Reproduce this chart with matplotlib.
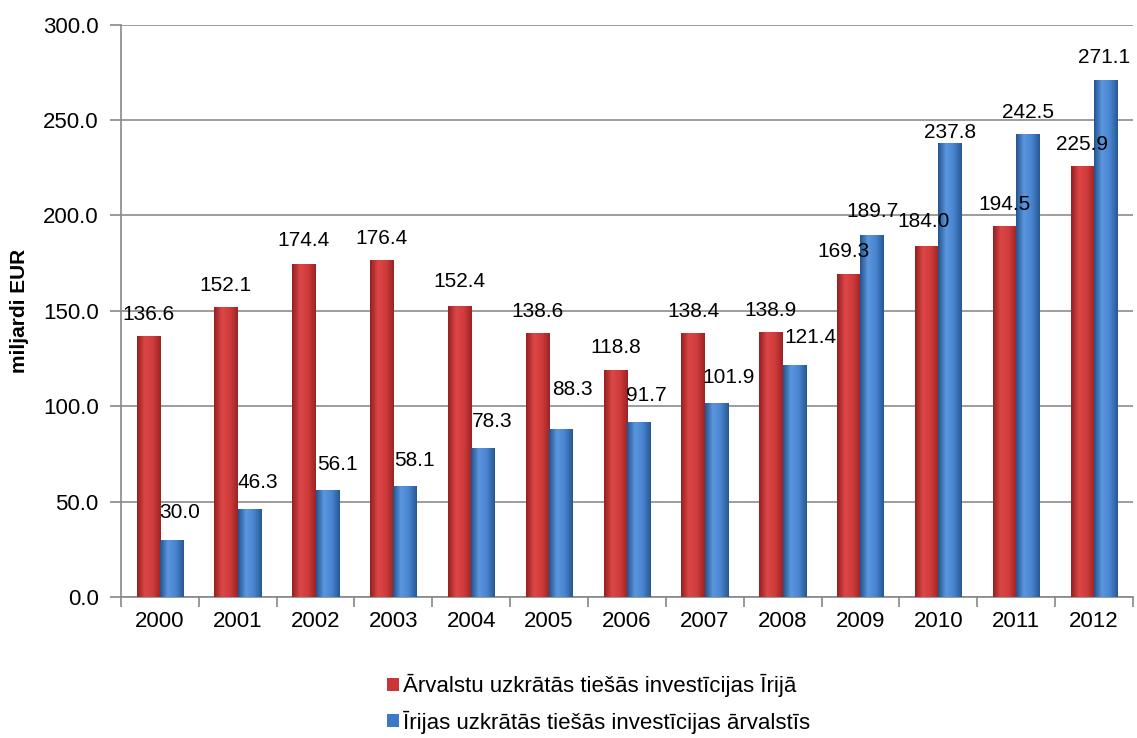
import numpy as np
import matplotlib.pyplot as plt
from matplotlib.colors import LinearSegmentedColormap

plt.rcParams['font.family'] = ['Liberation Sans', 'DejaVu Sans']

years = ['2000', '2001', '2002', '2003', '2004', '2005', '2006',
         '2007', '2008', '2009', '2010', '2011', '2012']
inward = [136.6, 152.1, 174.4, 176.4, 152.4, 138.6, 118.8,
          138.4, 138.9, 169.3, 184.0, 194.5, 225.9]
outward = [30.0, 46.3, 56.1, 58.1, 78.3, 88.3, 91.7,
           101.9, 121.4, 189.7, 237.8, 242.5, 271.1]
label_in = 'Ārvalstu uzkrātās tiešās investīcijas Īrijā'
label_out = 'Īrijas uzkrātās tiešās investīcijas ārvalstīs'

# label nudges (pixels) as placed in the original chart
red_dx = [0, -1, 0, 0, 0, 0, 0, 0, 0, -5, -3, 0, 0]
red_gap = [16, 16, 18, 16, 19, 16, 17, 16, 16, 17, 19, 16, 16]
blue_dx = [8.5, 8, 10, 9, 9.5, 12, 8, 12, 16, 0, 0, 0, -2]
blue_gap = [22, 21, 20, 20, 21, 34, 21, 20, 22, 18, 5, 16, 17]

fig = plt.figure(figsize=(11.37, 7.38), dpi=100)
ax = fig.add_axes([0.1064, 0.1911, 0.89, 0.7754])

x = np.arange(len(years))
w = 0.3
red_bars = ax.bar(x - w / 2, inward, w, color='#cc3535', label=label_in, zorder=3)
blue_bars = ax.bar(x + w / 2, outward, w, color='#3b78c6', label=label_out, zorder=3)

# shaded cylinder look
red_cm = LinearSegmentedColormap.from_list('r', ['#952020', '#dc4646', '#d03b3b', '#9c2424'])
blue_cm = LinearSegmentedColormap.from_list('b', ['#23548f', '#5b96de', '#4884d0', '#285892'])
grad = np.linspace(0, 1, 64).reshape(1, -1)
for bars, cm in [(red_bars, red_cm), (blue_bars, blue_cm)]:
    for b in bars:
        x0, y0 = b.get_x(), b.get_y()
        im = ax.imshow(grad, cmap=cm, aspect='auto', zorder=4,
                       extent=[x0, x0 + b.get_width(), y0, y0 + b.get_height()])
        im.set_clip_path(b)

px = 0.72  # points per pixel at dpi 100
for i in range(len(years)):
    ax.annotate(f'{inward[i]:.1f}', (x[i] - w / 2, inward[i]),
                xytext=(red_dx[i] * px, red_gap[i] * px),
                textcoords='offset points', ha='center', va='baseline', fontsize=15, zorder=5)
    ax.annotate(f'{outward[i]:.1f}', (x[i] + w / 2, outward[i]),
                xytext=(blue_dx[i] * px, blue_gap[i] * px),
                textcoords='offset points', ha='center', va='baseline', fontsize=15, zorder=5)

ax.set_xlim(-0.5, len(years) - 0.5)
ax.set_ylim(0, 300)
ax.set_yticks(np.arange(0, 301, 50))
ax.set_yticklabels([f'{v:.1f}' for v in np.arange(0, 301, 50)], fontsize=16)
ax.set_xticks(x)
ax.set_xticklabels(years, fontsize=16)
ax.set_xticks(np.arange(-0.5, len(years), 1), minor=True)
ax.tick_params(axis='x', which='major', length=0, pad=10)
ax.tick_params(axis='x', which='minor', length=7, color='#888888', width=1.2)
ax.tick_params(axis='y', length=8, color='#888888', width=1.2, pad=8)
ax.yaxis.grid(True, color='#8c8c8c', linewidth=1.2, zorder=0)
ax.set_axisbelow(True)
for s in ['top', 'right']:
    ax.spines[s].set_visible(False)
for s in ['left', 'bottom']:
    ax.spines[s].set_color('#888888')
    ax.spines[s].set_linewidth(1.2)
ax.set_ylabel('miljardi EUR', fontsize=15, fontweight='bold', labelpad=10)

fig.legend(handles=[red_bars, blue_bars], loc='upper left',
           bbox_to_anchor=(387 / 1137, 1 - 674 / 738), frameon=False,
           fontsize=16, handlelength=0.55, handleheight=0.55, handletextpad=0.15,
           labelspacing=0.6, borderpad=0, borderaxespad=0)

fig.savefig('out.png', dpi=100)
